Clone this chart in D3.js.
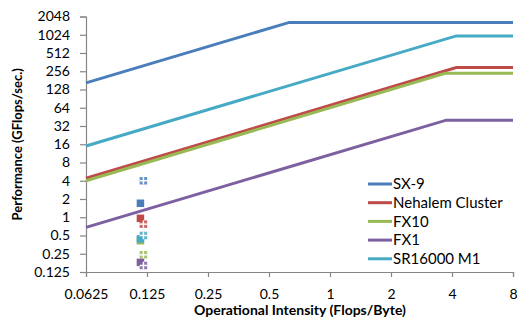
<!DOCTYPE html>
<html>
<head>
<meta charset="utf-8">
<script src="https://cdn.jsdelivr.net/npm/d3@7"></script>
<style>
  html, body { margin: 0; padding: 0; background: #fff; }
  svg text { font-family: Lato, "Open Sans", sans-serif; }
</style>
</head>
<body>
<svg id="chart" width="519" height="320"></svg>
<script>
// ---- data ----
const seriesNames = ["SX-9", "Nehalem Cluster", "FX10", "FX1", "SR16000 M1"];
const seriesColors = ["#4A7EBB", "#BE4B48", "#98B954", "#7D60A0", "#46AAC5"];
// roofline vertices (operational intensity, GFlops/sec)
const roofX = [
  [0.0625, 0.63, 8],
  [0.0625, 4.2, 8],
  [0.0625, 3.7, 8],
  [0.0625, 3.75, 8],
  [0.0625, 4.2, 8]
];
const roofY = [
  [165, 1638, 1638],
  [4.4, 294, 294],
  [4.0, 236.5, 236.5],
  [0.68, 40, 40],
  [15, 980, 980]
];
// measured points
const solidX = [0.116, 0.116, 0.116, 0.116, 0.116];
const solidY = [1.7, 0.96, 0.41, 0.18, 0.44];
const plusX = [0.12, 0.12, 0.12, 0.12, 0.12];
const plusY = [4.0, 0.77, 0.24, 0.16, 0.50];

const xTicks = [0.0625, 0.125, 0.25, 0.5, 1, 2, 4, 8];
const xTickLabels = ["0.0625", "0.125", "0.25", "0.5", "1", "2", "4", "8"];
const yTicks = [0.125, 0.25, 0.5, 1, 2, 4, 8, 16, 32, 64, 128, 256, 512, 1024, 2048];
const yTickLabels = ["0.125", "0.25", "0.5", "1", "2", "4", "8", "16", "32", "64", "128", "256", "512", "1024", "2048"];

const xTitle = "Operational Intensity (Flops/Byte)";
const yTitle = "Performance (GFlops/sec.)";

// ---- drawing ----
const svg = d3.select("#chart");
const mLeft = 86, mRight = 513, mTop = 16.5, mBottom = 272;

const x = d3.scaleLog().base(2).domain([0.0625, 8]).range([mLeft, mRight]);
const y = d3.scaleLog().base(2).domain([0.125, 2048]).range([mBottom, mTop]);

const axisColor = "#868686";

const gx = svg.append("g").attr("transform", `translate(0,${mBottom})`)
  .call(d3.axisBottom(x).tickValues(xTicks).tickFormat((d, i) => xTickLabels[i])
    .tickSizeOuter(0).tickSize(5).tickPadding(12));
const gy = svg.append("g").attr("transform", `translate(${mLeft},0)`)
  .call(d3.axisLeft(y).tickValues(yTicks).tickFormat((d, i) => yTickLabels[i])
    .tickSizeOuter(0).tickSize(6).tickPadding(10));

[gx, gy].forEach(g => {
  g.select(".domain").attr("stroke", axisColor).attr("stroke-width", 1.2);
  g.selectAll(".tick line").attr("stroke", axisColor).attr("stroke-width", 1.2);
  g.selectAll(".tick text").attr("fill", "#000").style("font-size", "14px")
    .style("font-family", "Lato, sans-serif");
});

// roofline lines
const line = d3.line().x(d => x(d[0])).y(d => y(d[1]));
seriesNames.forEach((name, i) => {
  const pts = roofX[i].map((v, j) => [v, roofY[i][j]]);
  svg.append("path").datum(pts).attr("d", line)
    .attr("fill", "none").attr("stroke", seriesColors[i]).attr("stroke-width", 3)
    .attr("stroke-linejoin", "miter");
});

// markers
seriesNames.forEach((name, i) => {
  const s = 7.5;
  svg.append("rect")
    .attr("x", x(solidX[i]) - s / 2).attr("y", y(solidY[i]) - s / 2)
    .attr("width", s).attr("height", s).attr("fill", seriesColors[i]);
  const cx = x(plusX[i]), cy = y(plusY[i]);
  const g = svg.append("g");
  g.append("rect").attr("x", cx - s / 2).attr("y", cy - s / 2)
    .attr("width", s).attr("height", s).attr("fill", seriesColors[i]).attr("opacity", 0.85);
  g.append("line").attr("x1", cx - s / 2).attr("x2", cx + s / 2).attr("y1", cy).attr("y2", cy)
    .attr("stroke", "#fff").attr("stroke-width", 1.5);
  g.append("line").attr("x1", cx).attr("x2", cx).attr("y1", cy - s / 2).attr("y2", cy + s / 2)
    .attr("stroke", "#fff").attr("stroke-width", 1.5);
});

// legend
const legend = svg.append("g");
seriesNames.forEach((name, i) => {
  const ly = 184 + i * 18.7;
  legend.append("line").attr("x1", 368).attr("x2", 392).attr("y1", ly).attr("y2", ly)
    .attr("stroke", seriesColors[i]).attr("stroke-width", 3);
  legend.append("text").attr("x", 393).attr("y", ly).attr("dy", "0.35em")
    .style("font-size", "15px").attr("fill", "#000").text(name);
});

// axis titles
svg.append("text").attr("x", 300).attr("y", 315)
  .attr("text-anchor", "middle").style("font-size", "14px").style("font-weight", "bold")
  .text(xTitle);
svg.append("text").attr("transform", `translate(22,${(mTop + mBottom) / 2}) rotate(-90)`)
  .attr("text-anchor", "middle").style("font-size", "13px").style("font-weight", "bold")
  .text(yTitle);
</script>
</body>
</html>
